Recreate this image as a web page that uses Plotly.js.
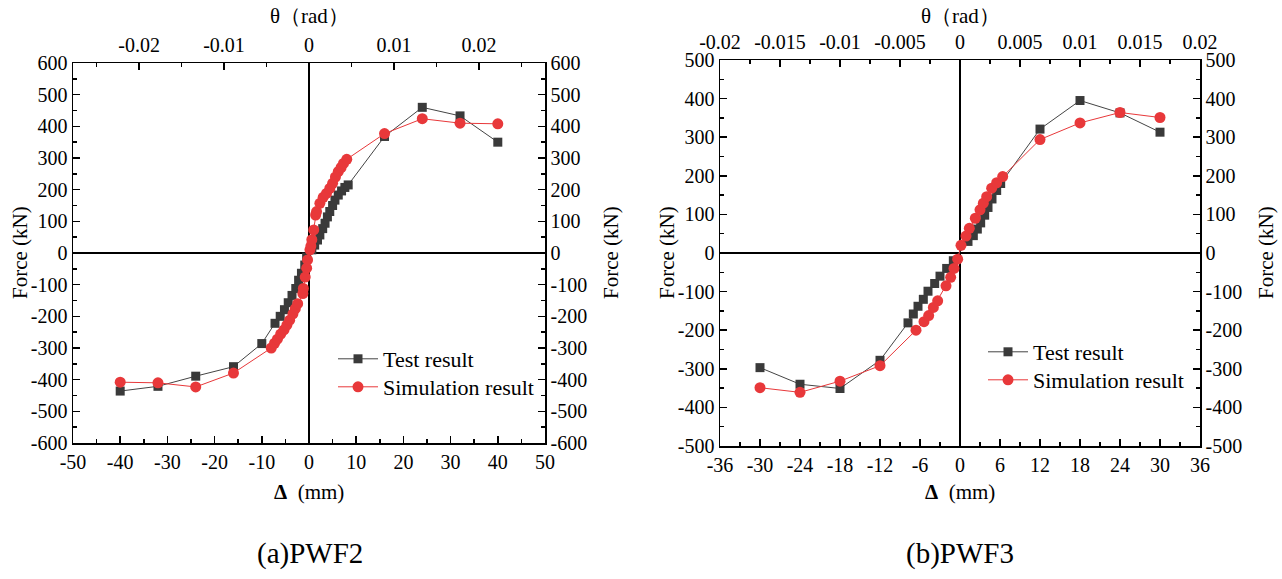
<!DOCTYPE html>
<html>
<head>
<meta charset="utf-8">
<script src="https://cdn.plot.ly/plotly-3.0.1.min.js"></script>
<style>
  html, body { margin: 0; padding: 0; background: #fff; }
  #chart { width: 1282px; height: 579px; }
</style>
</head>
<body>
<div id="chart"></div>
<script>
// Skeleton curves (force vs. top displacement) for two specimens.

// ---- PWF2 ----
const pwf2TestDisp = [-40, -32, -24, -16, -10, -7.2, -6.1, -5.2, -4.4, -3.6, -2.8, -2.2, -1.6, -0.9, -0.5,
  0.6, 1.2, 1.8, 2.3, 2.9, 3.4, 3.9, 4.4, 5.0, 5.5, 6.2, 6.9, 7.6, 8.3, 16, 24, 32, 40];
const pwf2TestForce = [-436, -421, -389, -359, -286, -222, -200, -179, -157, -134, -112, -86, -64, -38, -13,
  10, 25, 41, 57, 77, 94, 114, 131, 150, 167, 183, 196, 207, 215, 368, 460, 433, 350];

const pwf2SimDisp = [-40, -32, -24, -16, -8.0, -7.3, -6.7, -6.0, -5.3, -4.7, -4.1, -3.4, -2.9, -2.4, -1.3, -1.2, -0.8, -0.5, -0.3,
  0.2, 0.4, 0.6, 1.0, 1.4, 1.6, 2.3, 3.0, 3.7, 4.4, 5.0, 5.6, 6.2, 6.8, 7.3, 8.0, 16, 24, 32, 40];
const pwf2SimForce = [-408, -410, -423, -379, -300, -285, -272, -256, -243, -228, -212, -192, -176, -160, -128, -112, -76, -48, -22,
  10, 22, 42, 73, 120, 131, 157, 176, 188, 204, 220, 240, 257, 270, 283, 296, 377, 424, 410, 408];

// ---- PWF3 ----
const pwf3TestDisp = [-30, -24, -18, -12, -7.8, -7.0, -6.3, -5.5, -4.8, -3.8, -3.0, -2.0, -1.0,
  1.2, 2.0, 2.6, 3.1, 3.7, 4.2, 4.8, 5.5, 6.1, 12, 18, 24, 30];
const pwf3TestForce = [-297, -340, -351, -278, -181, -158, -138, -120, -99, -79, -60, -40, -20,
  30, 45, 62, 78, 98, 118, 140, 162, 180, 321, 395, 363, 313];

const pwf3SimDisp = [-30, -24, -18, -12, -6.6, -5.4, -4.7, -4.0, -3.35, -2.1, -1.4, -0.9, -0.35,
  0.15, 0.9, 1.4, 2.3, 3.0, 3.5, 4.0, 4.75, 5.5, 6.4, 12, 18, 24, 30];
const pwf3SimForce = [-349, -361, -332, -292, -200, -178, -162, -141, -124, -85, -63, -40, -16,
  20, 44, 64, 90, 112, 129, 146, 168, 182, 198, 294, 337, 364, 351];

// ---- tick values ----
const pwf2DispTicks = [-50, -40, -30, -20, -10, 0, 10, 20, 30, 40, 50];
const pwf2ForceTicks = [-600, -500, -400, -300, -200, -100, 0, 100, 200, 300, 400, 500, 600];
const pwf2DriftTicks = [-0.02, -0.01, 0, 0.01, 0.02];
const pwf3DispTicks = [-36, -30, -24, -18, -12, -6, 0, 6, 12, 18, 24, 30, 36];
const pwf3ForceTicks = [-500, -400, -300, -200, -100, 0, 100, 200, 300, 400, 500];
const pwf3DriftTicks = [-0.02, -0.015, -0.01, -0.005, 0, 0.005, 0.01, 0.015, 0.02];

const seriesNames = ['Test result', 'Simulation result'];
const storyHeight = 1800; // mm, drift ratio θ = Δ / H

const FONT = "'Liberation Serif', 'Times New Roman', Times, serif";
const testColor = '#3a3a3a';
const simColor = '#e8383a';

function curve(x, y, name, isTest, xa, ya, legendId) {
  return {
    x: x, y: y, name: name, type: 'scatter', mode: 'lines+markers',
    xaxis: xa, yaxis: ya, legend: legendId,
    line: { color: isTest ? '#444' : simColor, width: 1 },
    marker: isTest
      ? { symbol: 'square', size: 9, color: testColor }
      : { symbol: 'circle', size: 11, color: simColor },
    hoverinfo: 'x+y'
  };
}

// invisible holder so the secondary (top / right) axes get drawn
function holder(xa, ya) {
  return { x: [null], y: [null], xaxis: xa, yaxis: ya, type: 'scatter', mode: 'markers',
    showlegend: false, hoverinfo: 'skip' };
}

const data = [
  curve(pwf2TestDisp, pwf2TestForce, seriesNames[0], true, 'x', 'y', 'legend'),
  curve(pwf2SimDisp, pwf2SimForce, seriesNames[1], false, 'x', 'y', 'legend2'),
  holder('x2', 'y2'),
  curve(pwf3TestDisp, pwf3TestForce, seriesNames[0], true, 'x3', 'y3', 'legend3'),
  curve(pwf3SimDisp, pwf3SimForce, seriesNames[1], false, 'x3', 'y3', 'legend4'),
  holder('x4', 'y4')
];

const tickFont = { family: FONT, size: 20, color: '#000' };

// tick labels with a plain hyphen as the minus sign
function ticks(vals) {
  return { tickmode: 'array', tickvals: vals, ticktext: vals.map(v => String(v)) };
}

function minor(step) {
  return { tick0: 0, dtick: step, ticks: 'inside', ticklen: 4, tickwidth: 1.5, tickcolor: '#000' };
}

function axisBase(extra) {
  return Object.assign({
    showgrid: false, showline: true, linecolor: '#000', linewidth: 1.5,
    ticks: 'inside', ticklen: 7, tickwidth: 1.5, tickcolor: '#000',
    tickfont: tickFont, zeroline: false, fixedrange: true
  }, extra);
}

const zero = { zeroline: true, zerolinecolor: '#000', zerolinewidth: 1.5 };

const W = 1282, H = 579;
const dom1x = [73 / W, 545 / W], dom1y = [1 - 443 / H, 1 - 63 / H];
const dom2x = [720 / W, 1200 / W], dom2y = [1 - 446 / H, 1 - 60 / H];

function legendAt(xpx, ypx) {
  return {
    x: xpx / W, y: 1 - ypx / H, xanchor: 'left', yanchor: 'top',
    bgcolor: 'rgba(0,0,0,0)', font: { family: FONT, size: 22, color: '#000' },
    itemwidth: 40, tracegroupgap: 0
  };
}

const layout = {
  width: W, height: H,
  margin: { l: 0, r: 0, t: 0, b: 0 },
  paper_bgcolor: '#fff', plot_bgcolor: '#fff',
  font: { family: FONT, color: '#000' },
  showlegend: true,
  // PWF2
  xaxis: axisBase(Object.assign({ domain: dom1x, anchor: 'y', range: [-50, 50], minor: minor(5) },
    ticks(pwf2DispTicks), zero)),
  yaxis: axisBase(Object.assign({ domain: dom1y, anchor: 'x', range: [-600, 600], minor: minor(50) },
    ticks(pwf2ForceTicks), zero)),
  xaxis2: axisBase(Object.assign({ overlaying: 'x', side: 'top', anchor: 'y2',
    range: [-50 / storyHeight, 50 / storyHeight], minor: minor(0.005), ticklabelstandoff: 2 },
    ticks(pwf2DriftTicks))),
  yaxis2: axisBase(Object.assign({ overlaying: 'y', side: 'right', anchor: 'x2', range: [-600, 600],
    minor: minor(50) }, ticks(pwf2ForceTicks))),
  // PWF3
  xaxis3: axisBase(Object.assign({ domain: dom2x, anchor: 'y3', range: [-36, 36], minor: minor(3) },
    ticks(pwf3DispTicks), zero)),
  yaxis3: axisBase(Object.assign({ domain: dom2y, anchor: 'x3', range: [-500, 500], minor: minor(50) },
    ticks(pwf3ForceTicks), zero)),
  xaxis4: axisBase(Object.assign({ overlaying: 'x3', side: 'top', anchor: 'y4',
    range: [-36 / storyHeight, 36 / storyHeight], minor: minor(0.0025), ticklabelstandoff: 2 },
    ticks(pwf3DriftTicks))),
  yaxis4: axisBase(Object.assign({ overlaying: 'y3', side: 'right', anchor: 'x4', range: [-500, 500],
    minor: minor(50) }, ticks(pwf3ForceTicks))),
  legend: legendAt(333, 338),
  legend2: legendAt(333, 366),
  legend3: legendAt(983, 331),
  legend4: legendAt(983, 359),
  annotations: []
};

function label(text, xpx, ypx, size, angle) {
  return {
    text: text, xref: 'paper', yref: 'paper', x: xpx / W, y: 1 - ypx / H,
    xanchor: 'center', yanchor: 'middle', showarrow: false, textangle: angle || 0,
    font: { family: FONT, size: size, color: '#000' }
  };
}

layout.annotations.push(
  label('θ（rad）', 309, 16, 21),
  label('<b>Δ</b>  (mm)', 309, 492, 21),
  label('Force (kN)', 20, 253, 21, -90),
  label('Force (kN)', 611, 253, 21, -90),
  label('(a)PWF2', 310, 553, 29),
  label('θ（rad）', 960, 16, 21),
  label('<b>Δ</b>  (mm)', 960, 492, 21),
  label('Force (kN)', 667, 253, 21, -90),
  label('Force (kN)', 1266, 253, 21, -90),
  label('(b)PWF3', 960, 553, 29)
);

Plotly.newPlot('chart', data, layout, { displayModeBar: false, staticPlot: true });
</script>
</body>
</html>
